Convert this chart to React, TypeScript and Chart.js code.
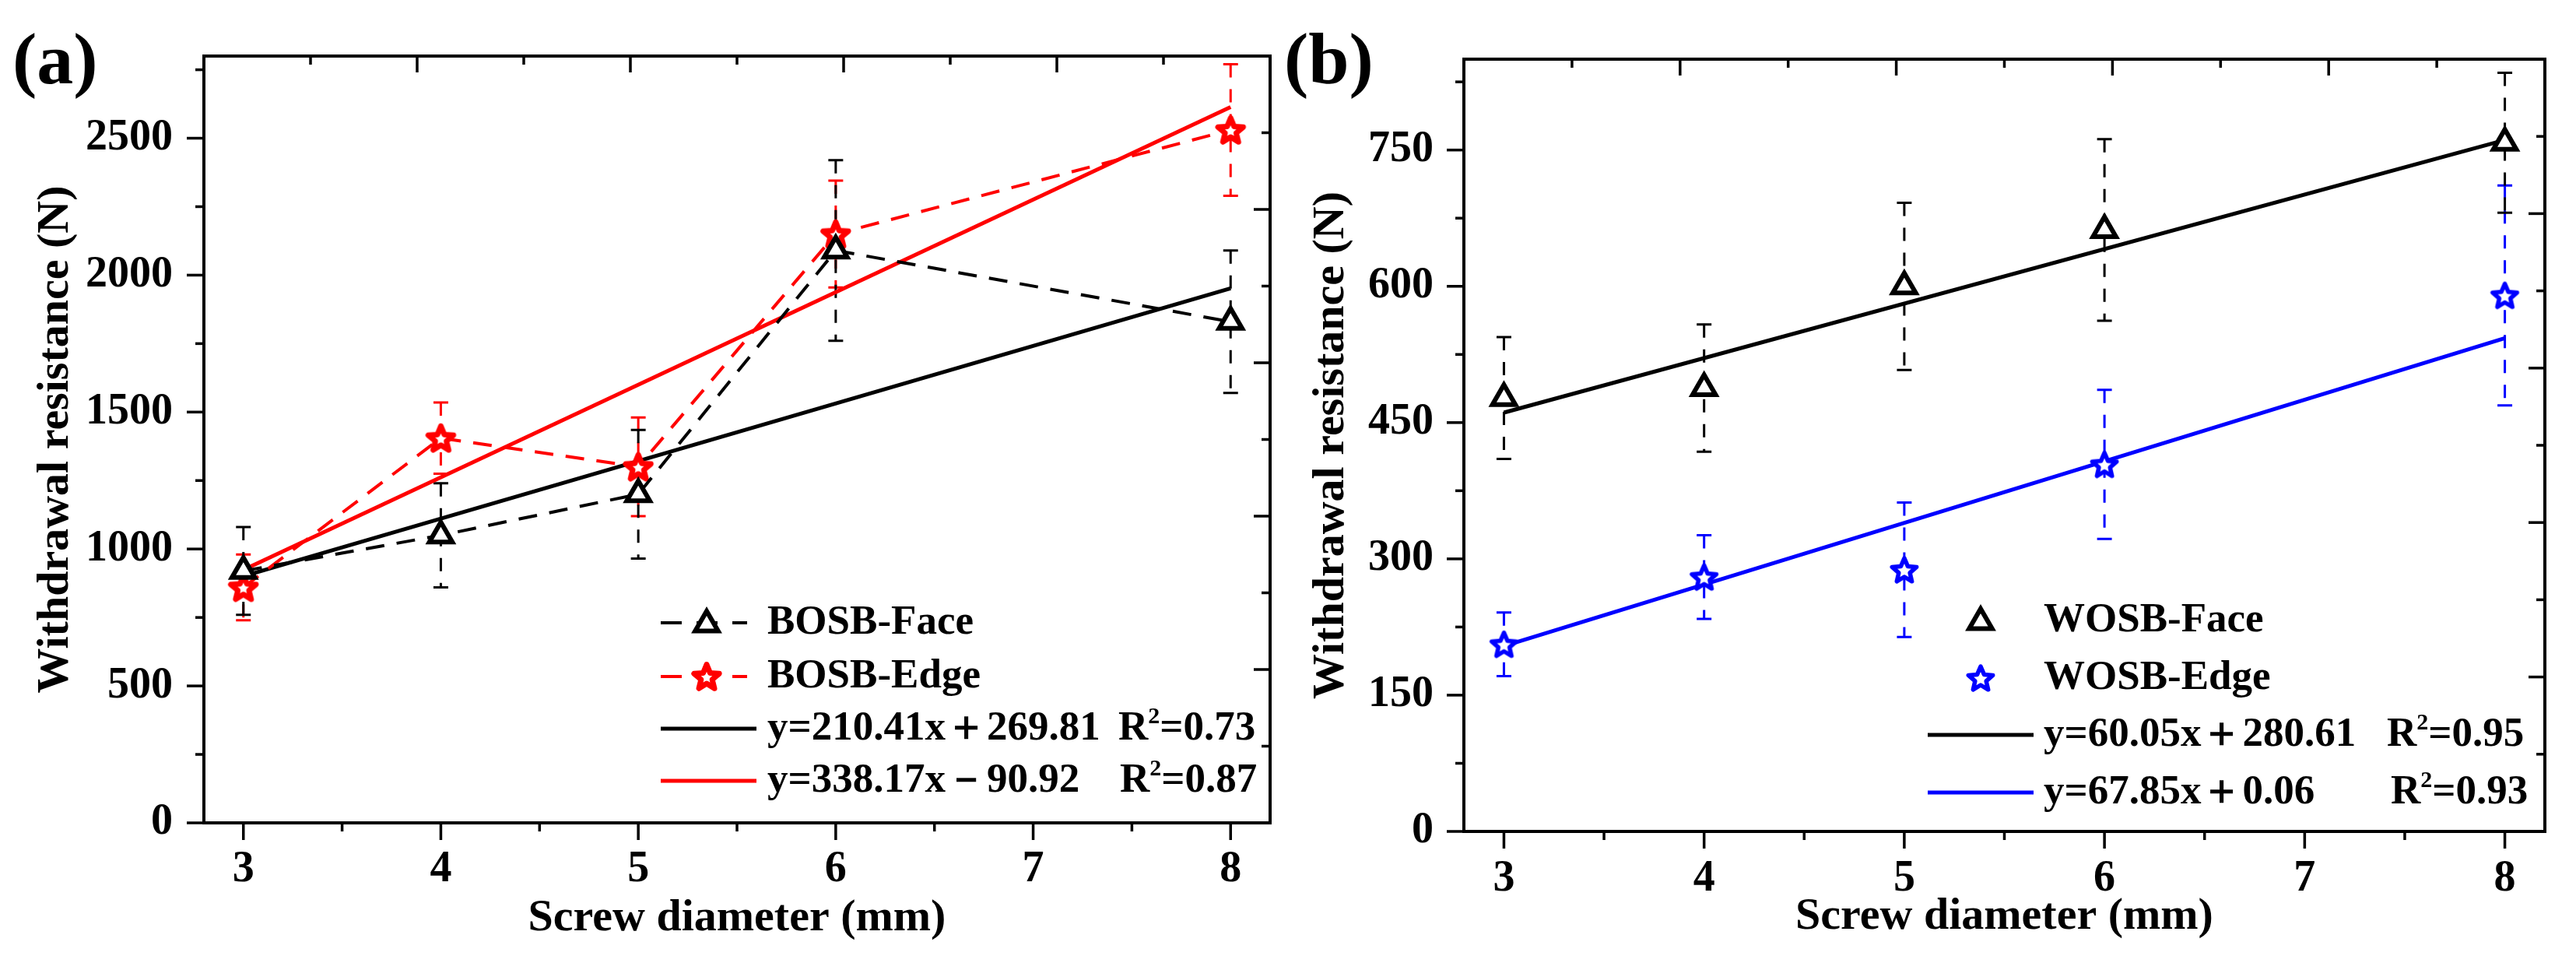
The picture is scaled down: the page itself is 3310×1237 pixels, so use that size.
import { useEffect, useRef } from "react";
import { Chart, registerables } from "chart.js";

Chart.register(...registerables);

const FAMILY = '"Liberation Serif", "Times New Roman", serif';
const RED = "#ff0000";
const BLUE = "#0000ff";
const BLACK = "#000000";

// screw diameter (mm)
const diameters = [3, 4, 5, 6, 8];
const fitX = [3, 8];

// (a) BOSB
const bosbFace = [920, 1050, 1200, 2090, 1830];
const bosbFaceErr = [160, 190, 235, 330, 260];
const bosbEdge = [860, 1405, 1300, 2150, 2530];
const bosbEdgeErr = [120, 130, 180, 195, 240];
const bosbFaceFit = [901, 1952];
const bosbEdgeFit = [924, 2614];

// (b) WOSB
const wosbFace = [477, 488, 600, 662, 758];
const wosbFaceErr = [67, 70, 92, 100, 77];
const wosbEdge = [206, 280, 288, 404, 590];
const wosbEdgeErr = [35, 46, 74, 82, 121];
const wosbFaceFit = [461, 761];
const wosbEdgeFit = [204, 543];

// ticks
const xMajor = [3, 4, 5, 6, 7, 8];
const xMinor = [3.5, 4.5, 5.5, 6.5, 7.5];
const yMajorA = [0, 500, 1000, 1500, 2000, 2500];
const yMinorA = [250, 750, 1250, 1750, 2250, 2750];
const yMajorB = [0, 150, 300, 450, 600, 750];
const yMinorB = [75, 225, 375, 525, 675, 825];
// top / right axes are not linked to the data axes in the original
const mirrorMajor = [0, 1, 2, 3, 4, 5];
const mirrorMinor = [0.5, 1.5, 2.5, 3.5, 4.5];

type Marker = "triangle" | "star";

interface Series {
  values: number[];
  err: number[];
  color: string;
  marker: Marker;
  line: boolean;
}

interface Fit {
  values: number[];
  color: string;
}

interface LegendRow {
  kind: "series" | "fit";
  color: string;
  marker?: Marker;
  dashed?: boolean;
  text: string;
  r2?: string;
  r2x?: number;
  y: number;
}

interface PanelSpec {
  left: number;
  padding: { left: number; right: number; top: number; bottom: number };
  yWidth: number;
  xHeight: number;
  yMax: number;
  yMajor: number[];
  yMinor: number[];
  xTickPad: number;
  yTickPad: number;
  series: Series[];
  fits: Fit[];
  legend: LegendRow[];
  legendGeo: { markerX: number; seriesLine?: [number, number]; fitLine: [number, number]; textX: number };
}

function makeStar(color: string, outer: number, inner: number, lw: number) {
  const c = document.createElement("canvas");
  c.width = 52;
  c.height = 52;
  const ctx = c.getContext("2d")!;
  ctx.beginPath();
  for (let i = 0; i < 10; i++) {
    const r = i % 2 === 0 ? outer : inner;
    const a = -Math.PI / 2 + (i * Math.PI) / 5;
    const px = 26 + r * Math.cos(a);
    const py = 27.5 + r * Math.sin(a);
    if (i === 0) ctx.moveTo(px, py);
    else ctx.lineTo(px, py);
  }
  ctx.closePath();
  ctx.fillStyle = "#fff";
  ctx.fill();
  ctx.lineWidth = lw;
  ctx.lineJoin = "round";
  ctx.strokeStyle = color;
  ctx.stroke();
  return c;
}

const stars: Record<string, HTMLCanvasElement> = {};
function starFor(color: string) {
  if (!stars[color]) stars[color] = color === BLUE ? makeStar(color, 16.5, 7.5, 5.5) : makeStar(color, 17, 7.5, 7);
  return stars[color];
}

function drawTriangle(ctx: CanvasRenderingContext2D, x: number, y: number, r: number, lw: number, color: string) {
  ctx.beginPath();
  for (let k = 0; k < 3; k++) {
    const a = (k * 2 * Math.PI) / 3;
    const px = x + Math.sin(a) * r;
    const py = y - Math.cos(a) * r;
    if (k === 0) ctx.moveTo(px, py);
    else ctx.lineTo(px, py);
  }
  ctx.closePath();
  ctx.fillStyle = "#fff";
  ctx.fill();
  ctx.lineWidth = lw;
  ctx.strokeStyle = color;
  ctx.stroke();
}

function errorBars(spec: PanelSpec) {
  return {
    id: "errorBars",
    beforeDatasetsDraw(chart: any) {
      const { ctx, scales } = chart;
      const x = scales.x;
      const y = scales.y;
      ctx.save();
      ctx.lineWidth = 3;
      spec.series.forEach((s) => {
        ctx.strokeStyle = s.color;
        s.values.forEach((v, i) => {
          const px = x.getPixelForValue(diameters[i]);
          const top = y.getPixelForValue(v + s.err[i]);
          const bot = y.getPixelForValue(v - s.err[i]);
          ctx.setLineDash([17, 15]);
          ctx.beginPath();
          ctx.moveTo(px, top);
          ctx.lineTo(px, bot);
          ctx.stroke();
          ctx.setLineDash([]);
          ctx.beginPath();
          ctx.moveTo(px - 9.5, top);
          ctx.lineTo(px + 9.5, top);
          ctx.moveTo(px - 9.5, bot);
          ctx.lineTo(px + 9.5, bot);
          ctx.stroke();
        });
      });
      ctx.restore();
    },
  };
}

function frameTicks(spec: PanelSpec) {
  return {
    id: "frameTicks",
    afterDraw(chart: any) {
      const { ctx, chartArea: a, scales } = chart;
      ctx.save();
      ctx.strokeStyle = BLACK;
      ctx.lineWidth = 3.5;
      const tick = (x1: number, y1: number, x2: number, y2: number) => {
        ctx.beginPath();
        ctx.moveTo(x1, y1);
        ctx.lineTo(x2, y2);
        ctx.stroke();
      };
      xMajor.forEach((v) => { const p = scales.x.getPixelForValue(v); tick(p, a.bottom, p, a.bottom + 22); });
      xMinor.forEach((v) => { const p = scales.x.getPixelForValue(v); tick(p, a.bottom, p, a.bottom + 11); });
      spec.yMajor.forEach((v) => { const p = scales.y.getPixelForValue(v); tick(a.left, p, a.left - 22, p); });
      spec.yMinor.forEach((v) => { const p = scales.y.getPixelForValue(v); tick(a.left, p, a.left - 11, p); });
      mirrorMajor.forEach((v) => {
        const px = scales.x2.getPixelForValue(v);
        tick(px, a.top, px, a.top + 21);
        const py = scales.y2.getPixelForValue(v);
        tick(a.right, py, a.right - 21, py);
      });
      mirrorMinor.forEach((v) => {
        const px = scales.x2.getPixelForValue(v);
        tick(px, a.top, px, a.top + 11);
        const py = scales.y2.getPixelForValue(v);
        tick(a.right, py, a.right - 11, py);
      });
      ctx.lineWidth = 4;
      ctx.strokeRect(a.left, a.top, a.right - a.left, a.bottom - a.top);
      ctx.restore();
    },
  };
}

function legendBox(spec: PanelSpec) {
  return {
    id: "legendBox",
    afterDraw(chart: any) {
      const { ctx } = chart;
      const g = spec.legendGeo;
      ctx.save();
      spec.legend.forEach((row) => {
        if (row.kind === "series") {
          if (row.dashed && g.seriesLine) {
            ctx.strokeStyle = row.color;
            ctx.lineWidth = 4;
            ctx.setLineDash([27, 19]);
            ctx.beginPath();
            ctx.moveTo(g.seriesLine[0], row.y);
            ctx.lineTo(g.seriesLine[1], row.y);
            ctx.stroke();
            ctx.setLineDash([]);
          }
          if (row.marker === "triangle") {
            drawTriangle(ctx, g.markerX, row.y + 2, 17, 6, row.color);
          } else {
            const img = starFor(row.color);
            ctx.drawImage(img, g.markerX - img.width / 2, row.y - img.height / 2);
          }
        } else {
          ctx.strokeStyle = row.color;
          ctx.lineWidth = 5;
          ctx.beginPath();
          ctx.moveTo(g.fitLine[0], row.y);
          ctx.lineTo(g.fitLine[1], row.y);
          ctx.stroke();
        }
        ctx.fillStyle = BLACK;
        ctx.textBaseline = "middle";
        ctx.textAlign = "left";
        ctx.font = `bold 53px ${FAMILY}`;
        ctx.fillText(row.text, g.textX, row.y);
        if (row.r2 && row.r2x) {
          const wR = ctx.measureText("R").width;
          ctx.fillText("R", row.r2x, row.y);
          ctx.font = `bold 30px ${FAMILY}`;
          const w2 = ctx.measureText("2").width;
          ctx.fillText("2", row.r2x + wR, row.y - 15);
          ctx.font = `bold 53px ${FAMILY}`;
          ctx.fillText("=" + row.r2, row.r2x + wR + w2, row.y);
        }
      });
      ctx.restore();
    },
  };
}

function buildConfig(spec: PanelSpec): any {
  const tickFont = { family: FAMILY, size: 56, weight: "bold" as const };
  const titleFont = { family: FAMILY, size: 58, weight: "bold" as const };
  const hiddenGrid = { display: true, drawOnChartArea: false, drawTicks: true, tickLength: 22, tickColor: "rgba(0,0,0,0)" };

  const datasets: any[] = [];
  spec.series.forEach((s, i) => {
    datasets.push({
      data: diameters.map((d, k) => ({ x: d, y: s.values[k] })),
      xAxisID: "x",
      yAxisID: "y",
      showLine: s.line,
      borderColor: s.color,
      borderWidth: 4,
      borderDash: [24, 16],
      pointStyle: s.marker === "star" ? starFor(s.color) : "triangle",
      pointRadius: 17,
      pointBorderWidth: 6,
      pointBorderColor: s.color,
      pointBackgroundColor: "#ffffff",
      order: spec.series.length - 1 - i,
    });
  });
  spec.fits.forEach((f, i) => {
    datasets.push({
      data: fitX.map((d, k) => ({ x: d, y: f.values[k] })),
      xAxisID: "x",
      yAxisID: "y",
      borderColor: f.color,
      borderWidth: 5,
      pointRadius: 0,
      order: 10 + i,
    });
  });

  return {
    type: "line",
    data: { datasets },
    options: {
      responsive: false,
      animation: false,
      layout: { padding: spec.padding },
      plugins: { legend: { display: false }, tooltip: { enabled: false } },
      scales: {
        x: {
          type: "linear",
          position: "bottom",
          min: 2.8,
          max: 8.2,
          afterBuildTicks: (s: any) => { s.ticks = xMajor.map((v) => ({ value: v })); },
          afterFit: (s: any) => { s.height = spec.xHeight; },
          grid: hiddenGrid,
          border: { display: false },
          ticks: { font: tickFont, color: BLACK, padding: spec.xTickPad, maxRotation: 0, autoSkip: false, callback: (v: any) => String(v) },
          title: { display: true, text: "Screw diameter (mm)", font: titleFont, color: BLACK, padding: 0 },
        },
        y: {
          type: "linear",
          position: "left",
          min: 0,
          max: spec.yMax,
          afterBuildTicks: (s: any) => { s.ticks = spec.yMajor.map((v) => ({ value: v })); },
          afterFit: (s: any) => { s.width = spec.yWidth; },
          grid: hiddenGrid,
          border: { display: false },
          ticks: { font: tickFont, color: BLACK, padding: spec.yTickPad, autoSkip: false, callback: (v: any) => String(v) },
          title: { display: true, text: "Withdrawal resistance (N)", font: titleFont, color: BLACK, padding: 0 },
        },
        x2: {
          type: "linear",
          position: "top",
          min: 0,
          max: 5,
          ticks: { display: false },
          grid: { display: false, drawTicks: false },
          border: { display: false },
          afterFit: (s: any) => { s.height = 0; },
        },
        y2: {
          type: "linear",
          position: "right",
          min: 0,
          max: 5,
          ticks: { display: false },
          grid: { display: false, drawTicks: false },
          border: { display: false },
          afterFit: (s: any) => { s.width = 0; },
        },
      },
    },
    plugins: [errorBars(spec), frameTicks(spec), legendBox(spec)],
  };
}

const panelA: PanelSpec = {
  left: 0,
  padding: { left: 37, right: 15, top: 72, bottom: 22 },
  yWidth: 225,
  xHeight: 158,
  yMax: 2800,
  yMajor: yMajorA,
  yMinor: yMinorA,
  xTickPad: 5,
  yTickPad: 18,
  series: [
    { values: bosbEdge, err: bosbEdgeErr, color: RED, marker: "star", line: true },
    { values: bosbFace, err: bosbFaceErr, color: BLACK, marker: "triangle", line: true },
  ],
  fits: [
    { values: bosbEdgeFit, color: RED },
    { values: bosbFaceFit, color: BLACK },
  ],
  legend: [
    { kind: "series", color: BLACK, marker: "triangle", dashed: true, text: "BOSB-Face", y: 800 },
    { kind: "series", color: RED, marker: "star", dashed: true, text: "BOSB-Edge", y: 869 },
    { kind: "fit", color: BLACK, text: "y=210.41x＋269.81", r2: "0.73", r2x: 1437, y: 936 },
    { kind: "fit", color: RED, text: "y=338.17x－90.92", r2: "0.87", r2x: 1439, y: 1003 },
  ],
  legendGeo: { markerX: 908, seriesLine: [849, 960], fitLine: [849, 972], textX: 986 },
};

const panelB: PanelSpec = {
  left: 1655,
  padding: { left: 21, right: 40, top: 76, bottom: 24 },
  yWidth: 205,
  xHeight: 145,
  yMax: 850,
  yMajor: yMajorB,
  yMinor: yMinorB,
  xTickPad: 6,
  yTickPad: 17,
  series: [
    { values: wosbEdge, err: wosbEdgeErr, color: BLUE, marker: "star", line: false },
    { values: wosbFace, err: wosbFaceErr, color: BLACK, marker: "triangle", line: false },
  ],
  fits: [
    { values: wosbEdgeFit, color: BLUE },
    { values: wosbFaceFit, color: BLACK },
  ],
  legend: [
    { kind: "series", color: BLACK, marker: "triangle", text: "WOSB-Face", y: 797 },
    { kind: "series", color: BLUE, marker: "star", text: "WOSB-Edge", y: 871 },
    { kind: "fit", color: BLACK, text: "y=60.05x＋280.61", r2: "0.95", r2x: 1412, y: 944 },
    { kind: "fit", color: BLUE, text: "y=67.85x＋0.06", r2: "0.93", r2x: 1417, y: 1018 },
  ],
  legendGeo: { markerX: 890, fitLine: [822, 958], textX: 971 },
};

function Panel({ spec }: { spec: PanelSpec }) {
  const canvasRef = useRef<HTMLCanvasElement | null>(null);

  useEffect(() => {
    if (!canvasRef.current) return;
    const chart = new Chart(canvasRef.current, buildConfig(spec));
    return () => chart.destroy();
  }, [spec]);

  return (
    <div style={{ position: "absolute", left: spec.left, top: 0, width: 1655, height: 1237 }}>
      <canvas ref={canvasRef} width={1655} height={1237} style={{ display: "block" }} />
    </div>
  );
}

const panelLabel = {
  position: "absolute" as const,
  top: 28,
  fontFamily: FAMILY,
  fontWeight: "bold" as const,
  fontSize: 94,
  lineHeight: 1,
  color: BLACK,
};

export default function App() {
  return (
    <div style={{ position: "absolute", left: 0, top: 0, width: 3310, height: 1237, background: "#fff" }}>
      <Panel spec={panelA} />
      <Panel spec={panelB} />
      <div style={{ ...panelLabel, left: 16 }}>(a)</div>
      <div style={{ ...panelLabel, left: 1650 }}>(b)</div>
    </div>
  );
}
